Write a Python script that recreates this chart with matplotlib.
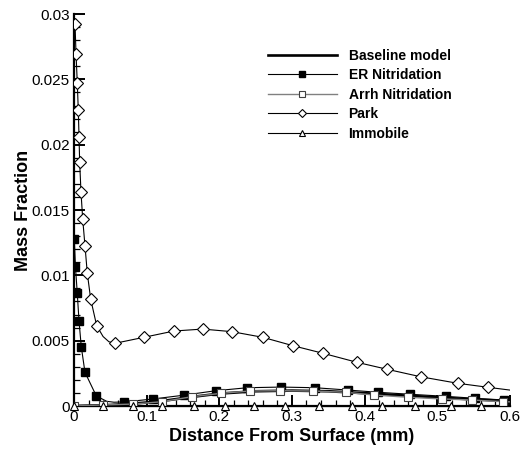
import matplotlib
matplotlib.use("Agg")
import matplotlib.pyplot as plt
from matplotlib.ticker import MultipleLocator, FuncFormatter

plt.rcParams['font.family'] = ['Liberation Sans', 'DejaVu Sans']

# Baseline model (curve only)
base_x = [0.0, 0.02, 0.05, 0.08, 0.10, 0.13, 0.16, 0.20, 0.25, 0.30, 0.35, 0.40, 0.45, 0.50, 0.55, 0.60]
base_y = [0.0, 0.00003, 0.00008, 0.00018, 0.00027, 0.00045, 0.00068, 0.00095, 0.00113, 0.00118,
          0.00113, 0.00098, 0.00082, 0.00066, 0.00050, 0.00038]

# ER Nitridation
er_x = [0.0004, 0.002, 0.0045, 0.0069, 0.010, 0.0151, 0.0307, 0.045, 0.055, 0.0692, 0.1091, 0.1514,
        0.195, 0.2385, 0.2853, 0.3316, 0.3775, 0.4187, 0.4624, 0.5119, 0.5518, 0.5921, 0.60]
er_y = [0.01278, 0.01066, 0.00862, 0.0065, 0.00454, 0.00258, 0.00077, 0.00036, 0.00029, 0.00031,
        0.00054, 0.00083, 0.00117, 0.0014, 0.00145, 0.0014, 0.00122, 0.00105, 0.0009, 0.00074,
        0.00059, 0.00046, 0.00044]
er_marks = [0, 1, 2, 3, 4, 5, 6, 9, 10, 11, 12, 13, 14, 15, 16, 17, 18, 19, 20, 21]

# Arrhenius Nitridation
arr_x = [0.0, 0.0395, 0.0816, 0.1215, 0.162, 0.2023, 0.2426, 0.2835, 0.3293, 0.3743, 0.4132,
         0.4592, 0.5068, 0.5473, 0.5908, 0.60]
arr_y = [0.0, 0.00008, 0.00015, 0.00033, 0.00071, 0.00097, 0.00115, 0.00117, 0.00115, 0.00105,
         0.00084, 0.00067, 0.00054, 0.00046, 0.00033, 0.00032]
arr_marks = list(range(15))

# Park
park_x = [0.0014, 0.0028, 0.0045, 0.0059, 0.0069, 0.0078, 0.0096, 0.012, 0.0151, 0.0183, 0.023,
          0.0312, 0.040, 0.048, 0.0564, 0.0963, 0.1376, 0.1771, 0.2174, 0.2597, 0.3018, 0.3431,
          0.3898, 0.4311, 0.4771, 0.528, 0.5701, 0.60]
park_y = [0.02923, 0.02694, 0.02474, 0.02265, 0.02062, 0.01865, 0.01638, 0.01429, 0.01227, 0.01016,
          0.00817, 0.00615, 0.00532, 0.00492, 0.0048, 0.00526, 0.00574, 0.00589, 0.00569, 0.00526,
          0.00461, 0.00403, 0.00334, 0.00281, 0.00224, 0.00174, 0.00143, 0.00122]
park_marks = [0, 1, 2, 3, 4, 5, 6, 7, 8, 9, 10, 11, 14, 15, 16, 17, 18, 19, 20, 21, 22, 23, 24, 25, 26]

# Immobile
imm_x = [0.0, 0.040, 0.081, 0.121, 0.165, 0.208, 0.248, 0.290, 0.337, 0.383, 0.424, 0.469, 0.519,
         0.560, 0.60]
imm_y = [0.0] * 15
imm_marks = list(range(14))

fig = plt.figure(figsize=(5.23, 4.54), dpi=100)
ax = fig.add_axes([0.1415, 0.1057, 0.8335, 0.8633])

ax.plot(base_x, base_y, color='black', lw=1.9, label='Baseline model', zorder=4)
ax.plot(er_x, er_y, color='black', lw=0.8, marker='s', ms=5.5, mfc='black', mec='black',
        markevery=er_marks, label='ER Nitridation', zorder=5)
ax.plot(arr_x, arr_y, color='0.5', lw=1.0, marker='s', ms=5.5, mfc='white', mec='0.25',
        mew=0.8, markevery=arr_marks, label='Arrh Nitridation', zorder=5)
ax.plot(park_x, park_y, color='black', lw=0.8, marker='D', ms=5.8, mfc='white', mec='black',
        mew=0.8, markevery=park_marks, label='Park', zorder=5)
ax.plot(imm_x, imm_y, color='black', lw=0.8, marker='^', ms=6, mfc='white', mec='black',
        mew=0.8, markevery=imm_marks, label='Immobile', zorder=5, clip_on=False)

ax.set_xlim(0, 0.6)
ax.set_ylim(0, 0.03)

for s in ['top', 'right']:
    ax.spines[s].set_visible(False)
for s in ['left', 'bottom']:
    ax.spines[s].set_linewidth(1.6)

ax.xaxis.set_major_locator(MultipleLocator(0.1))
ax.xaxis.set_minor_locator(MultipleLocator(0.02))
ax.yaxis.set_major_locator(MultipleLocator(0.005))
ax.yaxis.set_minor_locator(MultipleLocator(0.001))

def fmt(v, pos):
    s = ('%.3f' % v).rstrip('0').rstrip('.')
    return s if s else '0'

ax.xaxis.set_major_formatter(FuncFormatter(fmt))
ax.yaxis.set_major_formatter(FuncFormatter(fmt))

ax.tick_params(which='major', direction='in', length=8, width=1.4, labelsize=11, pad=3)
ax.tick_params(which='minor', direction='in', length=4.5, width=0.9)

ax.set_xlabel('Distance From Surface (mm)', fontsize=13, fontweight='bold', labelpad=3)
ax.set_ylabel('Mass Fraction', fontsize=13, fontweight='bold', labelpad=0)

leg = ax.legend(loc='upper left', bbox_to_anchor=(0.445, 0.912), frameon=False, fontsize=10,
                handlelength=4.95, handletextpad=0.85, labelspacing=0.4, numpoints=1,
                markerscale=0.75, borderaxespad=0, borderpad=0)
for t in leg.get_texts():
    t.set_fontweight('bold')

fig.savefig('out.png', dpi=100)
